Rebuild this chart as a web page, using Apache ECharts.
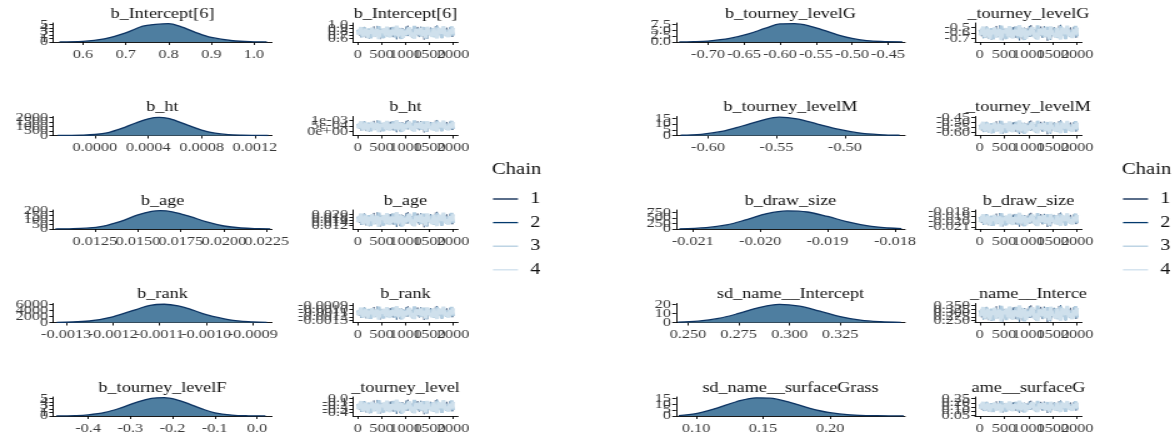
<!DOCTYPE html>
<html>
<head>
<meta charset="utf-8">
<script src="https://cdn.jsdelivr.net/npm/echarts@6/dist/echarts.min.js"></script>
<style>
  html, body { margin: 0; padding: 0; background: #fff; overflow: hidden; }
  #wrap { width: 1176px; height: 441px; overflow: hidden; }
  /* the figure is laid out narrow and widened, which gives the serif text its wide look */
  #chart { width: 940.8px; height: 441px; transform: scaleX(1.25); transform-origin: 0 0; }
</style>
</head>
<body>
<div id="wrap"><div id="chart"></div></div>
<script>
// ---- parameters (left figure: 0-4, right figure: 5-9) ----
const paramNames = ['b_Intercept[6]', 'b_ht', 'b_age', 'b_rank', 'b_tourney_levelF',
                    'b_tourney_levelG', 'b_tourney_levelM', 'b_draw_size', 'sd_name__Intercept', 'sd_name__surfaceGrass'];
// trace strip labels are clipped to the narrow trace panel
const traceTitles = ['b_Intercept[6]', 'b_ht', 'b_age', 'b_rank', '_tourney_level',
                     '_tourney_levelG', '_tourney_levelM', 'b_draw_size', '_name__Interce', 'ame__surfaceG'];
const chains = ['1', '2', '3', '4'];

// ---- posterior densities: [value, density] ----
const densIntercept6 = [[0.545,0.02],[0.60,0.16],[0.65,0.9],[0.70,2.6],[0.74,4.5],[0.77,5.0],[0.80,5.2],[0.83,4.3],[0.86,2.9],[0.90,1.3],[0.95,0.35],[1.00,0.05],[1.03,0.01]];
const densHt = [[-0.00028,3],[-0.0002,8],[-0.0001,30],[0.0,110],[0.0001,330],[0.0002,780],[0.0003,1350],[0.0004,1850],[0.00048,2010],[0.00055,1900],[0.0006,1680],[0.0007,1120],[0.0008,600],[0.0009,260],[0.001,90],[0.0011,25],[0.0012,6],[0.0013,1]];
const densAge = [[0.0102,0.5],[0.011,2],[0.012,9],[0.013,33],[0.014,85],[0.015,155],[0.0158,195],[0.0163,203],[0.017,190],[0.018,140],[0.019,78],[0.020,33],[0.021,11],[0.022,3],[0.0227,0.8]];
const densRank = [[-0.00132,30],[-0.0013,80],[-0.00125,500],[-0.0012,1900],[-0.00115,4300],[-0.00112,5700],[-0.00109,6050],[-0.00106,5500],[-0.00103,4200],[-0.0010,2600],[-0.00095,900],[-0.0009,200],[-0.00087,50]];
const densLevelF = [[-0.475,0.02],[-0.43,0.1],[-0.40,0.3],[-0.36,1.0],[-0.32,2.4],[-0.28,4.1],[-0.25,5.0],[-0.22,5.2],[-0.19,4.6],[-0.16,3.4],[-0.13,2.0],[-0.10,0.9],[-0.06,0.25],[-0.02,0.05],[0.02,0.01]];
const densLevelG = [[-0.74,0.03],[-0.72,0.12],[-0.70,0.4],[-0.67,1.5],[-0.645,3.3],[-0.62,5.8],[-0.60,7.6],[-0.58,7.7],[-0.56,6.8],[-0.54,5.0],[-0.52,3.0],[-0.50,1.5],[-0.48,0.6],[-0.46,0.2],[-0.43,0.03]];
const densLevelM = [[-0.62,0.2],[-0.605,1.0],[-0.59,3.5],[-0.575,8.3],[-0.56,13.5],[-0.548,16],[-0.535,14.5],[-0.52,10],[-0.505,5.5],[-0.49,2.3],[-0.475,0.8],[-0.46,0.2]];
const densDrawSize = [[-0.0212,8],[-0.0208,60],[-0.0205,180],[-0.0202,420],[-0.0199,690],[-0.0196,810],[-0.0193,760],[-0.019,560],[-0.0187,320],[-0.0184,140],[-0.0181,45],[-0.0179,15]];
const densSdIntercept = [[0.245,0.3],[0.255,1.5],[0.265,4.5],[0.275,10],[0.285,16.5],[0.295,20],[0.305,18],[0.315,12.5],[0.325,6.5],[0.335,2.5],[0.345,0.8],[0.355,0.2]];
const densSdGrass = [[0.087,0.3],[0.10,2],[0.115,6.5],[0.13,12],[0.145,15.3],[0.155,15],[0.17,11.5],[0.185,6.5],[0.20,2.8],[0.215,1],[0.235,0.25],[0.255,0.05]];
const densities = [densIntercept6, densHt, densAge, densRank, densLevelF,
                   densLevelG, densLevelM, densDrawSize, densSdIntercept, densSdGrass];

// ---- density panel scales ----
const densXMin = [0.53, -0.000315, 0.01006, -0.001328, -0.483, -0.7444, -0.6234, -0.02125, 0.2441, 0.085];
const densXMax = [1.042, 0.001328, 0.0228, -0.000859, 0.0355, -0.4264, -0.456, -0.01785, 0.357, 0.256];
const densXTicks = [
  [0.6, 0.7, 0.8, 0.9, 1.0],
  [0, 0.0004, 0.0008, 0.0012],
  [0.0125, 0.015, 0.0175, 0.02, 0.0225],
  [-0.0013, -0.0012, -0.0011, -0.001, -0.0009],
  [-0.4, -0.3, -0.2, -0.1, 0.0],
  [-0.7, -0.65, -0.6, -0.55, -0.5, -0.45],
  [-0.6, -0.55, -0.5],
  [-0.021, -0.02, -0.019, -0.018],
  [0.25, 0.275, 0.3, 0.325],
  [0.1, 0.15, 0.2]
];
const densXDigits = [1, 4, 4, 4, 1, 2, 2, 3, 3, 2];
const densYMax = [5.4, 2100, 210, 6300, 5.4, 8.0, 16.6, 850, 21, 16];
const densYTicks = [
  [0, 1, 2, 3, 4, 5], [0, 500, 1000, 1500, 2000], [0, 50, 100, 150, 200], [0, 2000, 4000, 6000], [0, 1, 2, 3, 4, 5],
  [0, 2.5, 5, 7.5], [0, 5, 10, 15], [0, 250, 500, 750], [0, 10, 20], [0, 5, 10, 15]
];
const densYDigits = [0, 0, 0, 0, 0, 1, 0, 0, 0, 0];

// ---- trace panel scales ----
const iterTicks = [0, 500, 1000, 1500, 2000];
const traceYMin = [0.50, -0.00035, 0.0095, -0.00135, -0.50, -0.76, -0.63, -0.0214, 0.238, 0.04];
const traceYMax = [1.06, 0.00135, 0.0232, -0.00085, 0.05, -0.42, -0.44, -0.0177, 0.362, 0.27];
const traceYTicks = [
  [0.6, 0.7, 0.8, 0.9, 1.0], [0, 0.0005, 0.001], [0.012, 0.014, 0.016, 0.018, 0.02],
  [-0.0013, -0.0012, -0.0011, -0.001, -0.0009], [-0.4, -0.3, -0.2, -0.1, 0.0],
  [-0.7, -0.6, -0.5], [-0.6, -0.55, -0.5, -0.45], [-0.021, -0.02, -0.019, -0.018],
  [0.25, 0.275, 0.3, 0.325, 0.35], [0.05, 0.1, 0.15, 0.2, 0.25]
];
const traceYDigits = [1, -1, 3, 4, 1, 1, 2, 3, 3, 2];   // -1: scientific labels
// location and spread of each parameter's draws
const traceCenter = [0.78, 0.00048, 0.0163, -0.0011, -0.235, -0.595, -0.548, -0.0196, 0.296, 0.152];
const traceSpread = [0.075, 0.0002, 0.002, 0.000066, 0.077, 0.051, 0.025, 0.0005, 0.02, 0.027];
// standardized draws of each chain, in iteration order
const chainZ1 = [0.3,-1.2,0.8,1.9,-0.4,-2.1,0.6,1.1,-0.9,0.2,2.4,-1.5,-0.1,0.9,-2.6,1.4,0.5,-0.7,1.7,-1.1,0.0,2.1,-1.8,0.7,-0.3,1.2,-2.3,0.4,1.6,-0.6,-1.4,2.7,0.1,-0.8,1.0,-1.9,0.6,2.2,-0.2,-1.3,0.9,-2.8,1.5,0.3,-1.0,1.8,-0.5,-1.6,2.5,0.2,-0.9,1.3,-2.2,0.8,-0.1,1.9,-1.2,0.4,2.0,-1.7];
const chainZ2 = [-0.5,1.4,-1.9,0.2,2.2,-0.8,1.0,-2.4,0.6,1.7,-0.3,-1.3,2.6,0.1,-1.0,0.9,-2.0,1.5,0.4,-0.6,2.0,-1.6,0.3,1.1,-2.7,0.7,-0.2,1.8,-1.1,0.5,2.4,-1.4,-0.4,1.3,-2.2,0.8,1.6,-0.7,-1.8,2.3,0.0,-1.2,1.2,-2.5,0.6,1.9,-0.9,0.2,-1.5,2.8,-0.3,1.0,-2.0,0.4,1.5,-1.0,-0.1,2.1,-1.7,0.9];
const chainZ3 = [1.1,-0.7,0.4,-1.8,2.0,0.2,-1.3,1.6,-2.3,0.9,-0.2,1.3,-1.1,2.5,-0.6,0.1,-2.1,1.4,0.7,-1.6,1.0,-0.4,2.2,-1.9,0.3,1.8,-0.8,-2.5,1.2,0.5,-1.2,1.9,-0.3,0.8,-2.0,2.6,-0.9,0.2,1.5,-1.5,-0.1,2.1,-2.4,0.6,1.0,-0.6,1.7,-1.8,0.0,2.3,-1.0,0.7,-2.2,1.4,0.3,-1.4,1.1,-0.5,2.4,-1.3];
const chainZ4 = [-1.0,0.6,2.1,-1.5,0.1,1.4,-2.2,0.9,-0.4,1.9,-1.7,0.3,1.2,-2.6,0.8,-0.1,1.6,-1.2,2.3,-0.5,-1.9,1.0,0.4,-1.0,2.7,-1.4,0.2,1.5,-2.1,0.7,-0.8,1.1,2.0,-1.6,0.0,-2.4,1.3,0.5,-0.7,1.8,-1.3,0.9,-2.0,2.2,-0.2,0.4,-1.5,1.6,-0.9,-2.3,1.7,0.6,-0.4,2.5,-1.1,0.1,-1.8,1.2,-0.6,1.9];
const chainZ = [chainZ1, chainZ2, chainZ3, chainZ4];

// ---- styling and layout ----
const SX = 1.25;                       // horizontal widening of the page
const px = v => v / SX;                // page x -> chart x
const FONT = 'Liberation Serif';
const chainColors = ['#011f4b', '#03396c', '#b3cde0', '#cfe0ec'];
const chainWidths = [0.5, 0.5, 2.8, 3.0];
const densFill = '#4e7ea0';
const densLine = '#0d3463';
const rowBase = [42, 135.5, 229, 322.5, 416];
const panelH = 19;
const figs = [
  { densLeft: 53, densW: 219, traceLeft: 353, traceW: 105, legendX: 492 },
  { densLeft: 676, densW: 229, traceLeft: 975, traceW: 107, legendX: 1122 }
];

const fmtFixed = d => v => Number(v).toFixed(d);
const fmtSci = v => {
  if (v === 0) return '0e+00';
  const e = Math.floor(Math.log10(Math.abs(v)) + 1e-9);
  const m = Math.round(v / Math.pow(10, e));
  return m + 'e' + (e < 0 ? '-' : '+') + String(Math.abs(e)).padStart(2, '0');
};

const axisLine = { show: true, onZero: false, lineStyle: { color: '#000', width: 0.9 } };
const axisTick = vals => ({ show: true, length: 3, lineStyle: { color: '#000', width: 0.9 }, customValues: vals });
// labels carry blank entries at both ends of the scale so that every real tick keeps its label,
// even where neighbours run into each other
const axisLabel = (lo, hi, vals, fmt, margin) => ({
  customValues: [lo].concat(vals, [hi]),
  formatter: v => (v === lo || v === hi) ? '' : fmt(v),
  showMinLabel: false, showMaxLabel: false, hideOverlap: false,
  fontFamily: FONT, fontSize: 13, color: '#3a3a3a', margin: margin
});
const valueAxis = (gi, lo, hi, ticks, fmt, margin) => ({
  type: 'value', gridIndex: gi, min: lo, max: hi,
  axisLine, axisTick: axisTick(ticks), splitLine: { show: false },
  axisLabel: axisLabel(lo, hi, ticks, fmt, margin)
});

const grid = [], xAxis = [], yAxis = [], series = [], graphic = [];

for (let p = 0; p < 10; p++) {
  const f = figs[p < 5 ? 0 : 1];
  const r = p % 5;
  const top = rowBase[r] - panelH;

  // density panel
  const gi = grid.length;
  grid.push({ left: px(f.densLeft), width: px(f.densW), top: top, height: panelH });
  xAxis.push(valueAxis(gi, densXMin[p], densXMax[p], densXTicks[p], fmtFixed(densXDigits[p]), 6));
  yAxis.push(valueAxis(gi, -densYMax[p] * 0.0005, densYMax[p], densYTicks[p], fmtFixed(densYDigits[p]), 4));
  series.push({ type: 'line', name: paramNames[p], xAxisIndex: gi, yAxisIndex: gi,
    data: densities[p], smooth: 0.35, showSymbol: false, silent: true,
    lineStyle: { color: densLine, width: 1.3 }, areaStyle: { color: densFill, opacity: 1, origin: 'start' } });

  // trace panel
  const ti = grid.length;
  grid.push({ left: px(f.traceLeft), width: px(f.traceW), top: top, height: panelH });
  xAxis.push(valueAxis(ti, -99, 2100, iterTicks, fmtFixed(0), 6));
  yAxis.push(valueAxis(ti, traceYMin[p], traceYMax[p], traceYTicks[p],
    traceYDigits[p] < 0 ? fmtSci : fmtFixed(traceYDigits[p]), 4));
  chainZ.forEach((zs, c) => {
    const n = zs.length;
    series.push({ type: 'line', name: chains[c], xAxisIndex: ti, yAxisIndex: ti,
      data: zs.map((z, k) => [1 + k * 1999 / (n - 1), traceCenter[p] + traceSpread[p] * z]),
      showSymbol: false, silent: true, color: chainColors[c],
      itemStyle: { color: chainColors[c] },
      lineStyle: { color: chainColors[c], width: chainWidths[c] } });
  });

  // strip titles
  const titleY = rowBase[r] - 28;
  graphic.push({ type: 'text', x: px(f.densLeft + f.densW / 2), y: titleY, silent: true,
    style: { text: paramNames[p], fill: '#111', font: '14.5px "' + FONT + '"', textAlign: 'center', textVerticalAlign: 'middle' } });
  graphic.push({ type: 'text', x: px(f.traceLeft + f.traceW / 2), y: titleY, silent: true,
    style: { text: traceTitles[p], fill: '#111', font: '14.5px "' + FONT + '"', textAlign: 'center', textVerticalAlign: 'middle' } });
}

// legend titles
figs.forEach(f => {
  graphic.push({ type: 'text', x: px(f.legendX), y: 170, silent: true,
    style: { text: 'Chain', fill: '#111', font: '16.5px "' + FONT + '"', textAlign: 'left', textVerticalAlign: 'middle' } });
});

const legend = figs.map(f => ({
  data: chains, orient: 'vertical', left: px(f.legendX + 1) - 5, top: 186,
  icon: 'rect', itemWidth: px(25), itemHeight: 1.3, itemGap: 7.6, selectedMode: false,
  textStyle: { fontFamily: FONT, fontSize: 16, color: '#111', padding: [0, 0, 0, px(6)] }
}));

const chart = echarts.init(document.getElementById('chart'), null, { renderer: 'canvas' });
chart.setOption({
  backgroundColor: '#fff',
  animation: false,
  grid, xAxis, yAxis, series, legend, graphic
});
</script>
</body>
</html>
